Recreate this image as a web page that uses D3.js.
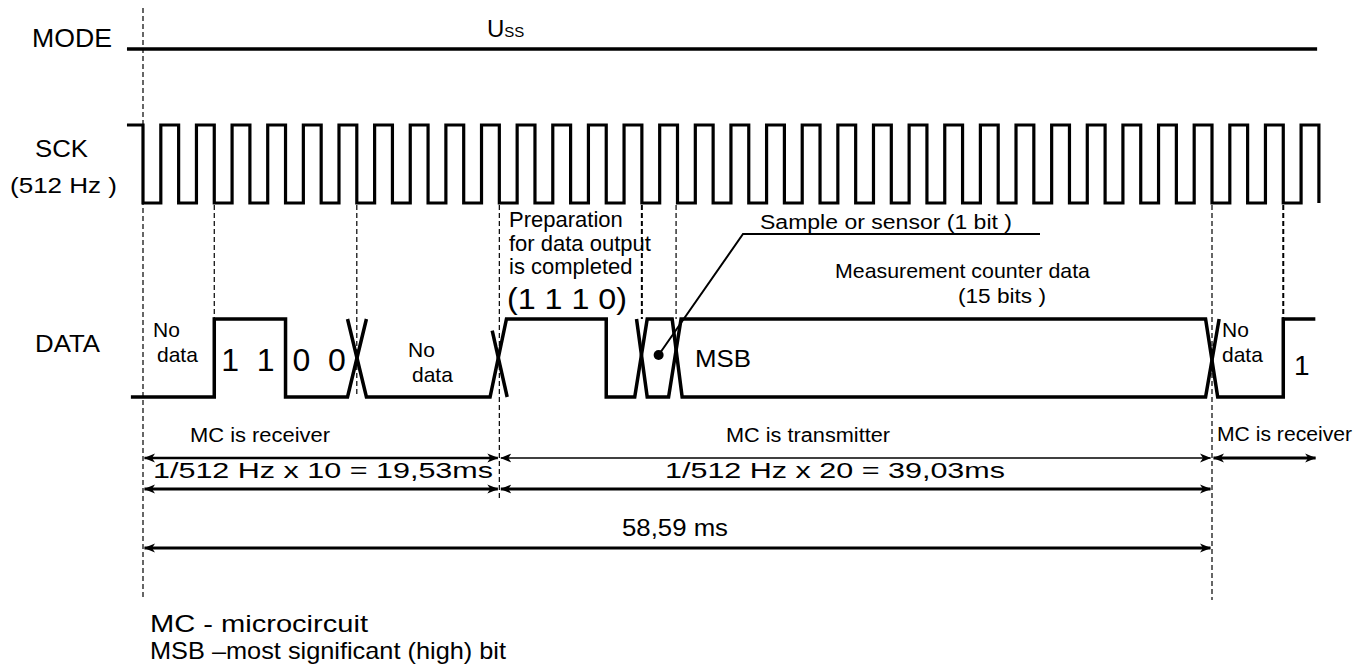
<!DOCTYPE html>
<html>
<head>
<meta charset="utf-8">
<script src="https://cdnjs.cloudflare.com/ajax/libs/d3/7.8.5/d3.min.js"></script>
<style>
body{margin:0;background:#fff;}
svg text{font-family:"Liberation Sans",Arial,sans-serif;fill:#000;}
</style>
</head>
<body>
<svg id="chart" width="1354" height="667"></svg>
<script>
// time unit = one SCK period (1/512 Hz); t=0 is the first falling edge
// SCK levels per half period, starting at t=-0.5
const sckBits = "1010101010101010101010" + "1010101010101010101010" + "1010101010101010101010" + "1";
const sckFrom = -0.45;

// DATA traces as [time, level] (1 = high, 0 = low)
const dataTrace1 = [[-0.34,0],[2,0],[2,1],[4,1],[4,0],[5.74,0],[6.27,1]];
const dataTrace2 = [[5.74,1],[6.27,0],[9.74,0],[10.2,1],[13,1],[13,0],[13.8,0],[14.15,1],[14.85,1],[15.13,0],[29.82,0],[30.2,1]];
const dataTrace3 = [[9.8,0.85],[10.22,0]];
const dataTrace4 = [[13.85,1],[14.15,0],[14.75,0],[15.1,1],[29.82,1],[30.16,0],[32,0],[32,1],[32.9,1]];

// received bits (cells start at t=2)
const rxBits = ["1","1","0","0"];

// dashed guide lines at these clock times
const markerTimes = [0, 2, 6, 10, 14, 14.96, 30, 32];

// dimension spans
const spanRow1 = [[0,10],[10,30],[30,32.95]];
const spanRow2 = [[0,10],[10,30]];
const spanRow3 = [[0,30]];
const spanLabels1 = ["MC is receiver","MC is transmitter","MC is receiver"];
const spanLabels2 = ["1/512 Hz  x 10 = 19,53ms","1/512 Hz  x 20 = 39,03ms"];
const spanLabels3 = ["58,59 ms"];

const svg = d3.select("#chart");
const x = d3.scaleLinear().domain([0, 30]).range([143, 1212]);
const ySck = d3.scaleLinear().domain([0, 1]).range([203, 125]);
const yData = d3.scaleLinear().domain([0, 1]).range([397, 319]);

// helper: text stretched to a given width
function label(px, py, size, str, len) {
  let t = svg.append("text").attr("x", px).attr("y", py).attr("font-size", size).text(str);
  if (len) t.attr("textLength", len).attr("lengthAdjust", "spacingAndGlyphs");
  return t;
}

// dashed vertical guides
const guideEnds = {0:[8,600], 2:[205,319], 6:[205,397], 10:[205,498], 14:[205,319], 14.96:[205,319], 30:[205,600], 32:[205,319]};
svg.append("g").selectAll("line")
  .data(markerTimes)
  .enter().append("line")
  .attr("x1", d => x(d)).attr("x2", d => x(d))
  .attr("y1", d => guideEnds[d][0]).attr("y2", d => guideEnds[d][1])
  .attr("stroke", "#000")
  .attr("stroke-width", d => (d == 14 || d == 32) ? 2 : 1.2)
  .attr("stroke-dasharray", "5,3");

// MODE
svg.append("line")
  .attr("x1", x(-0.45)).attr("x2", x(32.95))
  .attr("y1", 49).attr("y2", 49)
  .attr("stroke", "#000").attr("stroke-width", 3.5);
label(32, 47, 25, "MODE", 80);
let uss = svg.append("text").attr("x", 487).attr("y", 37).attr("font-size", 24);
uss.append("tspan").text("U");
uss.append("tspan").attr("font-size", 15).text("SS");

// SCK
let sckPts = [];
for (let i = 0; i < sckBits.length; i++) {
  sckPts.push([Math.max(sckFrom, -0.5 + i * 0.5), +sckBits[i]]);
}
sckPts.push([-0.5 + sckBits.length * 0.5, 0]);
const sckLine = d3.line().x(d => x(d[0])).y(d => ySck(d[1])).curve(d3.curveStepAfter);
svg.append("path").attr("d", sckLine(sckPts))
  .attr("fill", "none").attr("stroke", "#000").attr("stroke-width", 3.2);
label(35, 157, 23, "SCK", 53);
label(10, 193, 22, "(512 Hz )", 107);

// DATA
const dataLine = d3.line().x(d => x(d[0])).y(d => yData(d[1]));
svg.append("g").selectAll("path")
  .data([dataTrace1, dataTrace2, dataTrace3, dataTrace4])
  .enter().append("path")
  .attr("d", dataLine)
  .attr("fill", "none").attr("stroke", "#000").attr("stroke-width", 3.5);
label(35, 352, 24, "DATA", 65);

svg.append("g").selectAll("text")
  .data(rxBits)
  .enter().append("text")
  .attr("x", (d, i) => x(2.5 + i) - 2).attr("y", 371)
  .attr("font-size", 32).attr("text-anchor", "middle")
  .text(d => d);

function twoLine(px, py, a, b, dx, size) {
  label(px, py, size, a);
  label(px + dx, py + 25, size, b);
}
twoLine(153, 337, "No", "data", 4, 21);
twoLine(408, 357, "No", "data", 4, 21);
twoLine(1222, 337, "No", "data", 0, 21);
label(1294, 375, 28, "1");

// preparation note
["Preparation", "for data output", "is completed"].forEach((s, i) => {
  label(509, 227 + i * 23.5, 22, s);
});
label(507, 309, 30, "(1 1 1 0)", 120);

// sample bit marker
svg.append("circle").attr("cx", x(14.47)).attr("cy", 355).attr("r", 5).attr("fill", "#000");
svg.append("path")
  .attr("d", d3.line()([[x(14.47), 355], [743, 234], [1040, 234]]))
  .attr("fill", "none").attr("stroke", "#000").attr("stroke-width", 2);
label(760, 229, 20, "Sample or sensor (1 bit )", 252);
label(695, 367, 24, "MSB", 56);
label(835, 278, 21, "Measurement counter data", 255);
label(958, 303, 20, "(15 bits )", 88);

// arrowheads
const defs = svg.append("defs");
defs.append("marker").attr("id", "ah")
  .attr("viewBox", "0 0 11 10").attr("refX", 10.5).attr("refY", 5)
  .attr("markerWidth", 11).attr("markerHeight", 10)
  .attr("markerUnits", "userSpaceOnUse")
  .attr("orient", "auto-start-reverse")
  .append("path").attr("d", "M0,0.5 L11,5 L0,9.5 L3,5 Z").attr("fill", "#000");

function drawSpans(spans, y, widths) {
  svg.append("g").selectAll("line")
    .data(spans)
    .enter().append("line")
    .attr("x1", d => x(d[0]) + 1.5).attr("x2", d => x(d[1]) - 1.5)
    .attr("y1", y).attr("y2", y)
    .attr("stroke", "#000")
    .attr("stroke-width", (d, i) => widths[i])
    .attr("marker-start", "url(#ah)").attr("marker-end", "url(#ah)");
}
drawSpans(spanRow1, 458, [2.5, 1.3, 3]);
drawSpans(spanRow2, 489, [3, 3]);
drawSpans(spanRow3, 548, [3]);

const lab1 = [[190, 442, 20, 140], [726, 442, 20, 164], [1217, 441, 20, 135]];
spanLabels1.forEach((s, i) => label(lab1[i][0], lab1[i][1], lab1[i][2], s, lab1[i][3]));
const lab2 = [[153, 478], [665, 478]];
spanLabels2.forEach((s, i) => label(lab2[i][0], lab2[i][1], 22, s, 340));
label(622, 536, 23, spanLabels3[0], 106);

// footnotes
label(150, 632, 24, "MC - microcircuit", 218);
label(150, 659, 24, "MSB \u2013most significant (high) bit", 356);
</script>
</body>
</html>
